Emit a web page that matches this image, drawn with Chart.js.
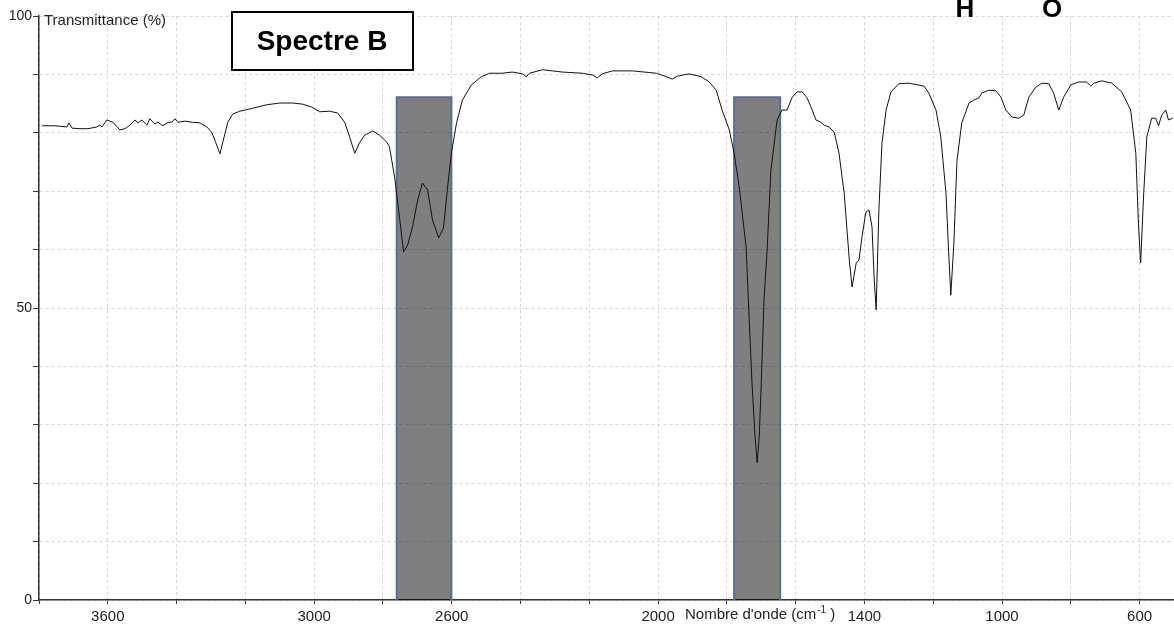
<!DOCTYPE html>
<html>
<head>
<meta charset="utf-8">
<script src="https://cdn.jsdelivr.net/npm/chart.js@4.4.0/dist/chart.umd.min.js"></script>
<style>
  html, body { margin: 0; padding: 0; background: #fff; }
  canvas { display: block; }
</style>
</head>
<body>
<canvas id="spectre" width="1174" height="626"></canvas>
<script>
const wavenumber = [
  3791, 3754, 3719, 3713, 3704, 3681, 3658, 3632, 3623, 3617, 3603, 3585, 3565, 3550, 3536, 3521,
  3512, 3501, 3486, 3478, 3463, 3454, 3440, 3425, 3414, 3405, 3396, 3376, 3353, 3332, 3312, 3298,
  3286, 3274, 3266, 3251, 3237, 3216, 3179, 3138, 3100, 3062, 3033, 3007, 2984, 2955, 2932, 2911,
  2897, 2882, 2868, 2853, 2830, 2810, 2789, 2781, 2766, 2752, 2740, 2728, 2714, 2699, 2685, 2670,
  2656, 2638, 2624, 2612, 2601, 2586, 2569, 2543, 2514, 2490, 2453, 2424, 2394, 2383, 2374, 2336,
  2278, 2220, 2191, 2177, 2162, 2133, 2075, 2005, 1976, 1959, 1944, 1909, 1875, 1851, 1831, 1814,
  1793, 1779, 1764, 1744, 1735, 1727, 1718, 1712, 1706, 1700, 1692, 1683, 1672, 1654, 1640, 1625,
  1610, 1596, 1581, 1567, 1552, 1541, 1526, 1517, 1503, 1488, 1474, 1459, 1444, 1436, 1424, 1416,
  1407, 1396, 1387, 1378, 1372, 1366, 1358, 1349, 1337, 1323, 1300, 1271, 1227, 1213, 1192, 1178,
  1163, 1154, 1149, 1140, 1131, 1117, 1096, 1082, 1067, 1059, 1038, 1018, 1003, 989, 971, 951,
  937, 922, 902, 884, 864, 850, 835, 821, 800, 777, 754, 742, 733, 710, 681, 652,
  626, 611, 603, 597, 588, 579, 565, 553, 545, 536, 524, 516, 504
];
const transmittance = [
  81.2, 81.2, 81.0, 81.7, 80.8, 80.7, 80.7, 81.0, 81.3, 81.0, 82.2, 81.8, 80.5, 80.7, 81.3, 82.2,
  81.7, 82.2, 81.3, 82.4, 81.5, 81.8, 81.2, 81.8, 81.8, 82.4, 81.8, 82.0, 81.8, 81.7, 81.0, 80.1,
  78.3, 76.4, 78.3, 81.8, 83.2, 83.7, 84.2, 84.8, 85.1, 85.1, 84.9, 84.4, 83.6, 83.7, 83.4, 81.8,
  79.3, 76.5, 78.3, 79.6, 80.3, 79.6, 78.4, 77.6, 72.4, 65.6, 59.6, 60.8, 63.9, 68.5, 71.4, 70.2,
  65.1, 62.0, 63.7, 70.7, 76.5, 81.7, 85.6, 88.2, 89.6, 90.2, 90.2, 90.4, 90.1, 89.6, 90.2, 90.8,
  90.4, 90.2, 89.9, 89.4, 90.1, 90.6, 90.6, 90.2, 89.6, 89.2, 89.7, 90.1, 89.6, 88.7, 87.3, 83.9,
  80.5, 76.5, 70.7, 60.4, 47.9, 37.2, 27.9, 23.5, 27.9, 37.2, 51.4, 59.9, 73.6, 82.2, 83.9, 83.9,
  86.1, 87.0, 87.0, 86.0, 83.9, 82.2, 81.8, 81.3, 81.0, 80.1, 76.5, 69.7, 58.2, 53.6, 57.7, 58.2,
  62.2, 66.4, 66.8, 63.9, 55.3, 49.7, 66.8, 78.3, 83.9, 87.0, 88.4, 88.5, 88.0, 86.8, 83.9, 79.3,
  69.7, 58.2, 52.2, 61.1, 75.3, 81.7, 85.1, 85.6, 86.0, 86.8, 87.3, 87.2, 86.1, 83.9, 82.7, 82.5,
  83.0, 86.1, 87.8, 88.5, 88.4, 86.8, 83.9, 86.1, 88.2, 88.7, 88.7, 88.0, 88.5, 88.9, 88.5, 87.0,
  83.9, 76.5, 63.9, 57.7, 69.7, 79.3, 82.5, 82.5, 81.2, 83.0, 83.9, 82.2, 82.5
];

// bandes grisees [debut, fin] et leur hauteur
const bandeOH = [2760, 2601];
const bandeCO = [1779, 1645];
const bandeTop = 86.1;

// graduations
const xTicks = [600, 800, 1000, 1200, 1400, 1600, 1800, 2000, 2200, 2400, 2600, 2800, 3000, 3200, 3400, 3600, 3800];
const xLabels = [3600, 3000, 2600, 2000, 1400, 1000, 600];
const yTicks = [0, 10, 20, 30, 40, 50, 60, 70, 80, 90, 100];
const yLabels = [0, 50, 100];

const FONT = "'Liberation Sans', Arial, sans-serif";

function bande(b) {
  return [
    { x: b[0], y: 0 }, { x: b[0], y: bandeTop },
    { x: b[1], y: bandeTop }, { x: b[1], y: 0 }
  ];
}

// textes rajoutes sur l'image (titre, legendes des axes, bout de formule)
const annotations = {
  id: 'annotations',
  afterDraw(chart) {
    const ctx = chart.ctx;
    ctx.save();
    ctx.fillStyle = '#222';
    ctx.textBaseline = 'middle';
    ctx.textAlign = 'left';
    ctx.font = '15px ' + FONT;
    ctx.fillText('Transmittance (%)', 44, 21);

    // axe x
    let x = 685;
    const y = 615;
    ctx.fillText("Nombre d'onde (cm", x, y);
    x += ctx.measureText("Nombre d'onde (cm").width + 1;
    ctx.font = '10px ' + FONT;
    ctx.fillText('-1', x, y - 5);
    x += ctx.measureText('-1').width;
    ctx.font = '15px ' + FONT;
    ctx.fillText(' )', x, y);

    // cadre Spectre B
    ctx.fillStyle = '#fff';
    ctx.fillRect(232, 12, 181, 58);
    ctx.lineWidth = 2;
    ctx.strokeStyle = '#000';
    ctx.strokeRect(232, 12, 181, 58);
    ctx.fillStyle = '#000';
    ctx.textAlign = 'center';
    ctx.font = 'bold 28px ' + FONT;
    ctx.fillText('Spectre B', 322, 42);

    ctx.textBaseline = 'alphabetic';
    ctx.font = 'bold 26px ' + FONT;
    ctx.fillText('H', 965, 17);
    ctx.fillText('O', 1052, 17);
    ctx.restore();
  }
};

const ctx = document.getElementById('spectre').getContext('2d');
new Chart(ctx, {
  type: 'line',
  data: {
    datasets: [
      {
        data: wavenumber.map((w, i) => ({ x: w, y: transmittance[i] })),
        borderColor: '#111',
        borderWidth: 1,
        pointRadius: 0,
        tension: 0,
        fill: false
      },
      {
        data: bande(bandeOH),
        borderColor: '#5c6c94',
        borderWidth: 2,
        backgroundColor: 'rgba(0,0,0,0.5)',
        pointRadius: 0,
        fill: 'origin'
      },
      {
        data: bande(bandeCO),
        borderColor: '#5c6c94',
        borderWidth: 2,
        backgroundColor: 'rgba(0,0,0,0.5)',
        pointRadius: 0,
        fill: 'origin'
      }
    ]
  },
  options: {
    responsive: false,
    animation: false,
    devicePixelRatio: 1,
    layout: { padding: { top: 16, right: 0, left: 0, bottom: 0 } },
    plugins: {
      legend: { display: false },
      tooltip: { enabled: false }
    },
    scales: {
      x: {
        type: 'linear',
        reverse: true,
        min: 500,
        max: 3800,
        afterBuildTicks: s => { s.ticks = xTicks.map(v => ({ value: v })); },
        afterFit: s => { s.height = 26; },
        ticks: {
          autoSkip: false,
          maxRotation: 0,
          padding: 4,
          color: '#222',
          font: { size: 15, family: FONT },
          callback: v => xLabels.includes(v) ? String(v) : ''
        },
        grid: { color: '#d6d6d6', tickColor: '#333', tickLength: 4 },
        border: { color: '#333', width: 1.5, dash: [3, 3] }
      },
      y: {
        min: 0,
        max: 100,
        afterBuildTicks: s => { s.ticks = yTicks.map(v => ({ value: v })); },
        afterFit: s => { s.width = 39; },
        ticks: {
          padding: 1,
          color: '#222',
          font: { size: 14, family: FONT },
          callback: v => yLabels.includes(v) ? String(v) : ''
        },
        grid: { color: '#d6d6d6', tickColor: '#333', tickLength: 6 },
        border: { color: '#333', width: 1.5, dash: [3, 3] }
      }
    }
  },
  plugins: [annotations]
});
</script>
</body>
</html>
